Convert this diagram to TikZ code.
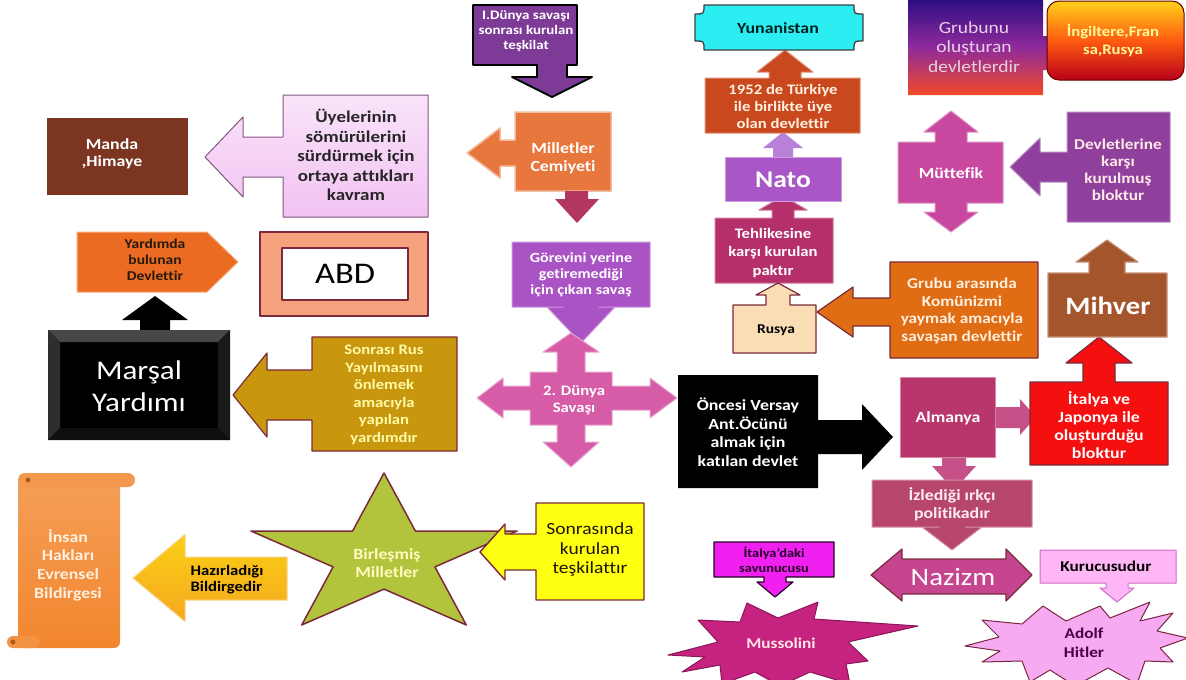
\documentclass[tikz,border=0pt]{standalone}
\usepackage{fontspec}
\setmainfont{Carlito}[FakeStretch=1.15,Ligatures=NoCommon]
\definecolor{cPurple}{HTML}{7D3A96}
\definecolor{cOrange}{HTML}{E8773D}
\definecolor{cMarPink}{HTML}{B2365E}
\definecolor{cViolet}{HTML}{A953C4}
\definecolor{cQuad}{HTML}{D65CA8}
\definecolor{cAlm}{HTML}{B8366C}
\definecolor{cAlmA}{HTML}{C65088}
\definecolor{cRed}{HTML}{F50F0F}
\definecolor{cMihver}{HTML}{A5552C}
\definecolor{cGrOr}{HTML}{E06C14}
\definecolor{cRusya}{HTML}{FADDB4}
\definecolor{cTehl}{HTML}{B5306A}
\definecolor{cNato}{HTML}{A957C6}
\definecolor{cNatoA}{HTML}{B880D6}
\definecolor{c1952}{HTML}{C9481E}
\definecolor{cCyan}{HTML}{2CEEF2}
\definecolor{cMutt}{HTML}{C9489F}
\definecolor{cDevl}{HTML}{8F409D}
\definecolor{cManda}{HTML}{7B3521}
\definecolor{cUye}{HTML}{F2C2F2}
\definecolor{cYard}{HTML}{EC6B22}
\definecolor{cAbd}{HTML}{F6A27F}
\definecolor{cBord}{HTML}{7A2A3A}
\definecolor{cGold}{HTML}{C9970E}
\definecolor{cScroll}{HTML}{F2862E}
\definecolor{cHaz}{HTML}{F5AF24}
\definecolor{cStar}{HTML}{B2C43C}
\definecolor{cYel}{HTML}{FFFF10}
\definecolor{cIzl}{HTML}{B7466F}
\definecolor{cNaz}{HTML}{C6458F}
\definecolor{cItd}{HTML}{F020F0}
\definecolor{cMuss}{HTML}{C5237F}
\definecolor{cKur}{HTML}{FFB6F6}
\definecolor{cHit}{HTML}{F5AAF2}
\definecolor{gTop}{HTML}{2A0C82}
\definecolor{gMid}{HTML}{8E2A9C}
\definecolor{gBot}{HTML}{F04A28}
\definecolor{iTop}{HTML}{FFD21A}
\definecolor{iMid}{HTML}{FF5A10}
\definecolor{iBot}{HTML}{B8001A}
\newcommand\myfs[2]{\fontsize{#1}{#2}\selectfont}
\newcommand\CalSet[9]{\tikzset{cur/.style={#1}}\def\cXa{#2}\def\cYa{#3}\def\cXb{#4}\def\cYb{#5}\def\cC{#6}\def\cT{#7}\def\cB{#8}\def\cS{#9}}
\newcommand\CalD[9]{\CalSet{#1}{#2}{#3}{#4}{#5}{#6}{#7}{#8}{#9}\CalDfin}
\newcommand\CalDfin[1]{\path[cur] (\cXa,\cYa) -- (\cXb,\cYa) -- (\cXb,\cYb) -- ({\cC+\cS},\cYb) -- ({\cC+\cS},\cB) -- ({\cC+#1},\cB) -- (\cC,\cT) -- ({\cC-#1},\cB) -- ({\cC-\cS},\cB) -- ({\cC-\cS},\cYb) -- (\cXa,\cYb) -- cycle;}
\newcommand\CalU[9]{\CalSet{#1}{#2}{#3}{#4}{#5}{#6}{#7}{#8}{#9}\CalUfin}
\newcommand\CalUfin[1]{\path[cur] (\cXa,\cYb) -- (\cXa,\cYa) -- ({\cC-\cS},\cYa) -- ({\cC-\cS},\cB) -- ({\cC-#1},\cB) -- (\cC,\cT) -- ({\cC+#1},\cB) -- ({\cC+\cS},\cB) -- ({\cC+\cS},\cYa) -- (\cXb,\cYa) -- (\cXb,\cYb) -- cycle;}
\newcommand\CalL[9]{\CalSet{#1}{#2}{#3}{#4}{#5}{#6}{#7}{#8}{#9}\CalLfin}
\newcommand\CalLfin[1]{\path[cur] (\cXa,\cYa) -- (\cXb,\cYa) -- (\cXb,\cYb) -- (\cXa,\cYb) -- (\cXa,{\cC+\cS}) -- (\cB,{\cC+\cS}) -- (\cB,{\cC+#1}) -- (\cT,\cC) -- (\cB,{\cC-#1}) -- (\cB,{\cC-\cS}) -- (\cXa,{\cC-\cS}) -- cycle;}
\newcommand\CalR[9]{\CalSet{#1}{#2}{#3}{#4}{#5}{#6}{#7}{#8}{#9}\CalRfin}
\newcommand\CalRfin[1]{\path[cur] (\cXa,\cYa) -- (\cXb,\cYa) -- (\cXb,{\cC-\cS}) -- (\cB,{\cC-\cS}) -- (\cB,{\cC-#1}) -- (\cT,\cC) -- (\cB,{\cC+#1}) -- (\cB,{\cC+\cS}) -- (\cXb,{\cC+\cS}) -- (\cXb,\cYb) -- (\cXa,\cYb) -- cycle;}
\begin{document}
\begin{tikzpicture}[x=1pt,y=-1pt,line join=round,
  tw/.style={align=center,text=white,inner sep=0pt},
  tb/.style={align=center,text=black,inner sep=0pt}]
\useasboundingbox (0,0) rectangle (1186,680);
\fill[white] (0,0) rectangle (1186,680);

% ---------- centre column
\CalD{fill=cPurple,draw=black,line width=1.8pt}{473}{5}{577}{65}{552}{97}{77}{15}{40}
\node[tw,font=\bfseries\myfs{13}{15}] (ww1) at (526,31) {I.Dünya savaşı\\sonrası kurulan\\teşkilat};

\CalL{fill=cOrange,draw=cOrange!50!white,line width=1.5pt}{515}{112}{611}{191}{153}{467}{500}{13}{25}
\node[tw,font=\bfseries\myfs{15.5}{18}] (mc) at (563,158) {Milletler\\Cemiyeti};
\path[fill=cMarPink] (565,191) -- (588,191) -- (588,199) -- (599,199) -- (577,223) -- (555,199) -- (565,199) -- cycle;

\CalD{fill=cViolet,draw=cViolet!60!white,line width=1pt}{512}{242}{650}{307}{581}{343}{307}{18}{34}
\node[tw,font=\bfseries\myfs{14}{16}] (gor) at (581,275) {Görevini yerine\\getiremediği\\için çıkan savaş};

\path[fill=cQuad,draw=cQuad!55!white,line width=1pt]
  (571,333) -- (599,352) -- (585,352) -- (585,372) -- (612,372) -- (612,386) -- (650,386) -- (650,378) -- (677,398)
  -- (650,418) -- (650,410) -- (612,410) -- (612,425) -- (585,425) -- (585,442) -- (599,442) -- (571,467)
  -- (543,442) -- (557,442) -- (557,425) -- (530,425) -- (530,410) -- (503,410) -- (503,418) -- (477,398)
  -- (503,378) -- (503,386) -- (530,386) -- (530,372) -- (557,372) -- (557,352) -- (543,352) -- cycle;
\node[tw,font=\bfseries\myfs{14.5}{17}] (ds) at (574,400) {2. Dünya\\Savaşı};

\CalR{fill=black}{678}{375}{818}{488}{437}{893}{862}{17}{33}
\node[tw,font=\bfseries\myfs{15.5}{18.5}] (vers) at (748,432) {Öncesi Versay\\Ant.Öcünü\\almak için\\katılan devlet};

% ---------- Almanya group
\path[fill=cAlmA] (995,407) -- (1020,407) -- (1020,399) -- (1036,417) -- (1020,435) -- (1020,428) -- (995,428) -- cycle;
\path[fill=cAlmA] (942,456) -- (966,456) -- (966,466) -- (976,466) -- (954,490) -- (932,466) -- (942,466) -- cycle;
\path[fill=cAlm,draw=cAlm!60!white,line width=1pt] (900,377) rectangle (995,457);
\node[tw,font=\bfseries\myfs{15.5}{18}] (alm) at (948,418) {Almanya};

\CalU{fill=cRed,draw=cBord,line width=1.2pt}{1030}{382}{1168}{465}{1099}{337}{363}{16}{33}
\node[tw,font=\bfseries\myfs{15.5}{18}] (itj) at (1099,425) {İtalya ve\\Japonya ile\\oluşturduğu\\bloktur};

\CalU{fill=cMihver,draw=cMihver!65!white,line width=1.2pt}{1048}{273}{1167}{337}{1107}{240}{262}{18}{31}
\node[tw,font=\bfseries\myfs{25}{28}] (mih) at (1108,306) {Mihver};

\CalL{fill=cGrOr,draw=cBord,line width=1.2pt}{890}{262}{1038}{358}{312}{817}{853}{14}{25}
\node[tw,text=orange!12!white,font=\bfseries\myfs{15}{17.5}] (grub) at (962,311) {Grubu arasında\\Komünizmi\\yaymak amacıyla\\savaşan devlettir};

% ---------- Nato column
\CalU{fill=cTehl,draw=cTehl!65!white,line width=1pt}{715}{218}{833}{283}{783}{196}{210}{11}{24}
\node[tw,font=\bfseries\myfs{14.5}{18.5}] (tehl) at (773,253) {Tehlikesine\\karşı kurulan\\paktır};

\CalU{fill=cRusya,draw=cBord,line width=1.2pt}{733}{305}{816}{353}{778}{283}{295}{12}{22}
\node[tb,font=\bfseries\myfs{13.5}{16}] (rus) at (776,330) {Rusya};

\path[fill=cNatoA] (773,158) -- (773,148) -- (763,148) -- (783,132) -- (803,148) -- (793,148) -- (793,158) -- cycle;
\path[fill=cNato,draw=cNato!60!white,line width=1pt] (725,157) rectangle (841,201);
\node[tw,font=\bfseries\myfs{24}{28}] (nato) at (783,180) {Nato};

\CalU{fill=c1952,draw=c1952!60!white,line width=1pt}{705}{78}{860}{133}{785}{50}{72}{16}{28}
\node[tw,text=orange!12!white,font=\bfseries\myfs{14.5}{17}] (y52) at (783,106) {1952 de Türkiye\\ile birlikte üye\\olan devlettir};

\path[fill=cCyan,draw=black!75,line width=1.3pt] (704,5) -- (854,5) .. controls (854,14) .. (863,14) -- (863,41) .. controls (854,41) .. (854,50) -- (704,50) .. controls (704,41) .. (695,41) -- (695,14) .. controls (704,14) .. (704,5) -- cycle;
\node[tb,text=black!75!teal,font=\bfseries\myfs{15.5}{18}] (yun) at (778,28) {Yunanistan};

% ---------- Müttefik group
\path[fill=cMutt,draw=cMutt!60!white,line width=1pt]
  (898,142) -- (935,142) -- (935,132) -- (924,132) -- (951,111) -- (978,132) -- (967,132) -- (967,142) -- (1003,142)
  -- (1003,203) -- (967,203) -- (967,212) -- (978,212) -- (951,232) -- (924,212) -- (935,212) -- (935,203) -- (898,203) -- cycle;
\node[tw,font=\bfseries\myfs{15.5}{18}] (mutt) at (951,173) {Müttefik};

\CalL{fill=cDevl,draw=cDevl!60!white,line width=1pt}{1067}{112}{1170}{222}{167}{1010}{1040}{15}{29}
\node[tw,text=pink!35!white,font=\bfseries\myfs{15}{17}] (devl) at (1118,170) {Devletlerine\\karşı\\kurulmuş\\bloktur};

\path[top color=gTop,bottom color=gBot,middle color=gMid] (908,-2) -- (1043,-2) -- (1043,36) -- (1062,36) -- (1062,70) -- (1043,70) -- (1043,95) -- (908,95) -- cycle;
\node[tw,text=violet!18!white,font=\myfs{17}{19.5}] (grubunu) at (974,47) {Grubunu\\oluşturan\\devletlerdir};

\path[rounded corners=12pt,top color=iTop,bottom color=iBot,middle color=iMid,draw=red!40!black,line width=1pt] (1047,1) rectangle (1184,80);
\node[tw,text=yellow!40!white,font=\bfseries\myfs{14.5}{18}] (ing) at (1113,41) {İngiltere,Fran\\sa,Rusya};

% ---------- left column
\path[fill=cManda] (47,118) rectangle (188,195);
\node[tw,font=\bfseries\myfs{15.5}{17.5}] (manda) at (112,154) {Manda\\,Himaye};

\CalL{top color=cUye!45!white,bottom color=cUye,draw=gray!70!violet,line width=1pt}{283}{95}{428}{217}{157}{205}{243}{20}{40}
\node[tb,text=black!85,font=\bfseries\myfs{16.5}{19.5}] (uye) at (356,155) {Üyelerinin\\sömürülerini\\sürdürmek için\\ortaya attıkları\\kavram};

\path[fill=cYard,draw=cYard!55!white,line width=1pt] (77,232) -- (207,232) -- (238,262) -- (207,292) -- (77,292) -- cycle;
\node[tb,text=black!80!brown,font=\bfseries\myfs{13.5}{16}] (yard) at (155,260) {Yardımda\\bulunan\\Devlettir};

\path[fill=cAbd,draw=cBord,line width=1.2pt] (260,232) rectangle (428,316);
\path[fill=white,draw=cBord,line width=2pt] (282,248) rectangle (408,300);
\node[font=\myfs{30}{32}] (abd) at (345,274) {ABD};

\path[fill=black] (140,332) -- (140,320) -- (122,320) -- (155,296) -- (188,320) -- (170,320) -- (170,332) -- cycle;
\path[fill=black] (48,330) rectangle (230,440);
\path[fill=black!72] (48,330) -- (230,330) -- (218,342) -- (60,342) -- cycle;
\path[fill=black!82] (48,330) -- (60,342) -- (60,428) -- (48,440) -- cycle;
\path[fill=black!90] (230,330) -- (218,342) -- (218,428) -- (230,440) -- cycle;
\path[fill=black!94] (48,440) -- (60,428) -- (218,428) -- (230,440) -- cycle;
\node[tw,font=\myfs{27}{32}] (mar) at (139,386) {Marşal\\Yardımı};

\CalL{fill=cGold,draw=cBord,line width=1.2pt}{312}{337}{457}{451}{395}{233}{267}{25}{42}
\node[tw,text=yellow!35!white,font=\bfseries\myfs{14.5}{17.5}] (srus) at (384,395) {Sonrası Rus\\Yayılmasını\\önlemek\\amacıyla\\yapılan\\yardımdır};

% ---------- bottom left
\path[top color=cScroll!80!white,bottom color=cScroll,rounded corners=6pt] (18,478) rectangle (120,648);
\path[fill=cScroll!85!white,rounded corners=7pt] (18,473) rectangle (135,487);
\path[fill=cScroll!90!white,rounded corners=6pt] (7,636) rectangle (40,648);
\fill[cScroll!70!black] (28,480) circle (2.5pt);
\fill[cScroll!70!black] (13,642) circle (2.5pt);
\node[tw,text=orange!12!white,font=\bfseries\myfs{15.5}{18.7}] (insan) at (68,565) {İnsan\\Hakları\\Evrensel\\Bildirgesi};

\CalL{top color=cHaz!60!yellow,bottom color=cHaz!85!orange,draw=cHaz!55!white,line width=1pt}{185}{557}{287}{600}{578}{133}{185}{21.5}{43.5}
\node[tb,align=left,font=\bfseries\myfs{14.5}{16}] (haz) at (227,580) {Hazırladığı\\Bildirgedir};

\path[fill=cStar,draw=cBord,line width=1.5pt] (384,473) -- (415.4,531) -- (517.1,531) -- (434.9,566.9) -- (466.3,625) -- (384,589.1) -- (301.7,625) -- (333.1,566.9) -- (250.9,531) -- (352.6,531) -- cycle;
\node[tw,text=yellow!25!white,font=\bfseries\myfs{15.5}{17.5}] (bm) at (387,563) {Birleşmiş\\Milletler};

\CalL{fill=cYel,draw=cBord,line width=1.4pt}{536}{503}{644}{600}{552}{480}{505}{18}{28}
\node[tb,text=black!85!brown,font=\myfs{17}{19.5}] (sonr) at (590,550) {Sonrasında\\kurulan\\teşkilattır};

% ---------- bottom right
\CalD{fill=cIzl,draw=cIzl!60!white,line width=1pt}{872}{480}{1032}{527}{952}{550}{527}{13}{30}
\node[tw,text=pink!30!white,font=\bfseries\myfs{15.5}{17.5}] (izl) at (952,504) {İzlediği ırkçı\\politikadır};

\path[fill=cNaz,draw=cBord,line width=1.2pt] (871,575) -- (902,549) -- (902,559) -- (1006,559) -- (1006,549) -- (1032,575) -- (1006,601) -- (1006,594) -- (902,594) -- (902,601) -- cycle;
\node[tw,font=\myfs{25}{28}] (naz) at (953,577) {Nazizm};

\CalD{fill=cItd,draw=black!70!violet,line width=1.2pt}{714}{542}{834}{577}{775}{597}{582}{11}{18}
\node[tb,text=black!70!violet,font=\bfseries\myfs{12.5}{15.5}] (itd) at (774,560) {İtalya'daki\\savunucusu};

\path[fill=cMuss,draw=cMuss!70!black,line width=1pt] (668,655) -- (718,642) -- (698,620) -- (740,622) -- (747,603) -- (778,618) -- (818,602) -- (814,619) -- (918,626) -- (848,642) -- (868,661) -- (846,664) -- (850,684) -- (810,672) -- (780,686) -- (755,672) -- (722,684) -- (720,665) -- (682,672) -- (705,657) -- cycle;
\node[tw,text=pink!40!white,font=\bfseries\myfs{15}{18}] (muss) at (781,643) {Mussolini};

\CalD{fill=cKur,draw=cKur!60!violet,line width=1pt}{1040}{550}{1176}{583}{1117}{602}{588}{11}{17}
\node[tb,font=\bfseries\myfs{15}{18}] (kur) at (1106,566) {Kurucusudur};

\path[fill=cHit,draw=cBord!90!violet,line width=1pt] (965,646) -- (999,637) -- (982,620) -- (1022,624) -- (1043,606) -- (1066,621) -- (1100,606) -- (1110,618) -- (1150,602) -- (1140,621) -- (1173,613) -- (1157,631) -- (1188,638) -- (1160,648) -- (1173,662) -- (1145,661) -- (1137,684) -- (1108,668) -- (1075,686) -- (1050,670) -- (1030,682) -- (1022,661) -- (982,662) -- (1000,651) -- cycle;
\node[tb,text=violet!55!black,font=\bfseries\myfs{15}{19}] (hit) at (1084,643) {Adolf\\Hitler};
\end{tikzpicture}
\end{document}
